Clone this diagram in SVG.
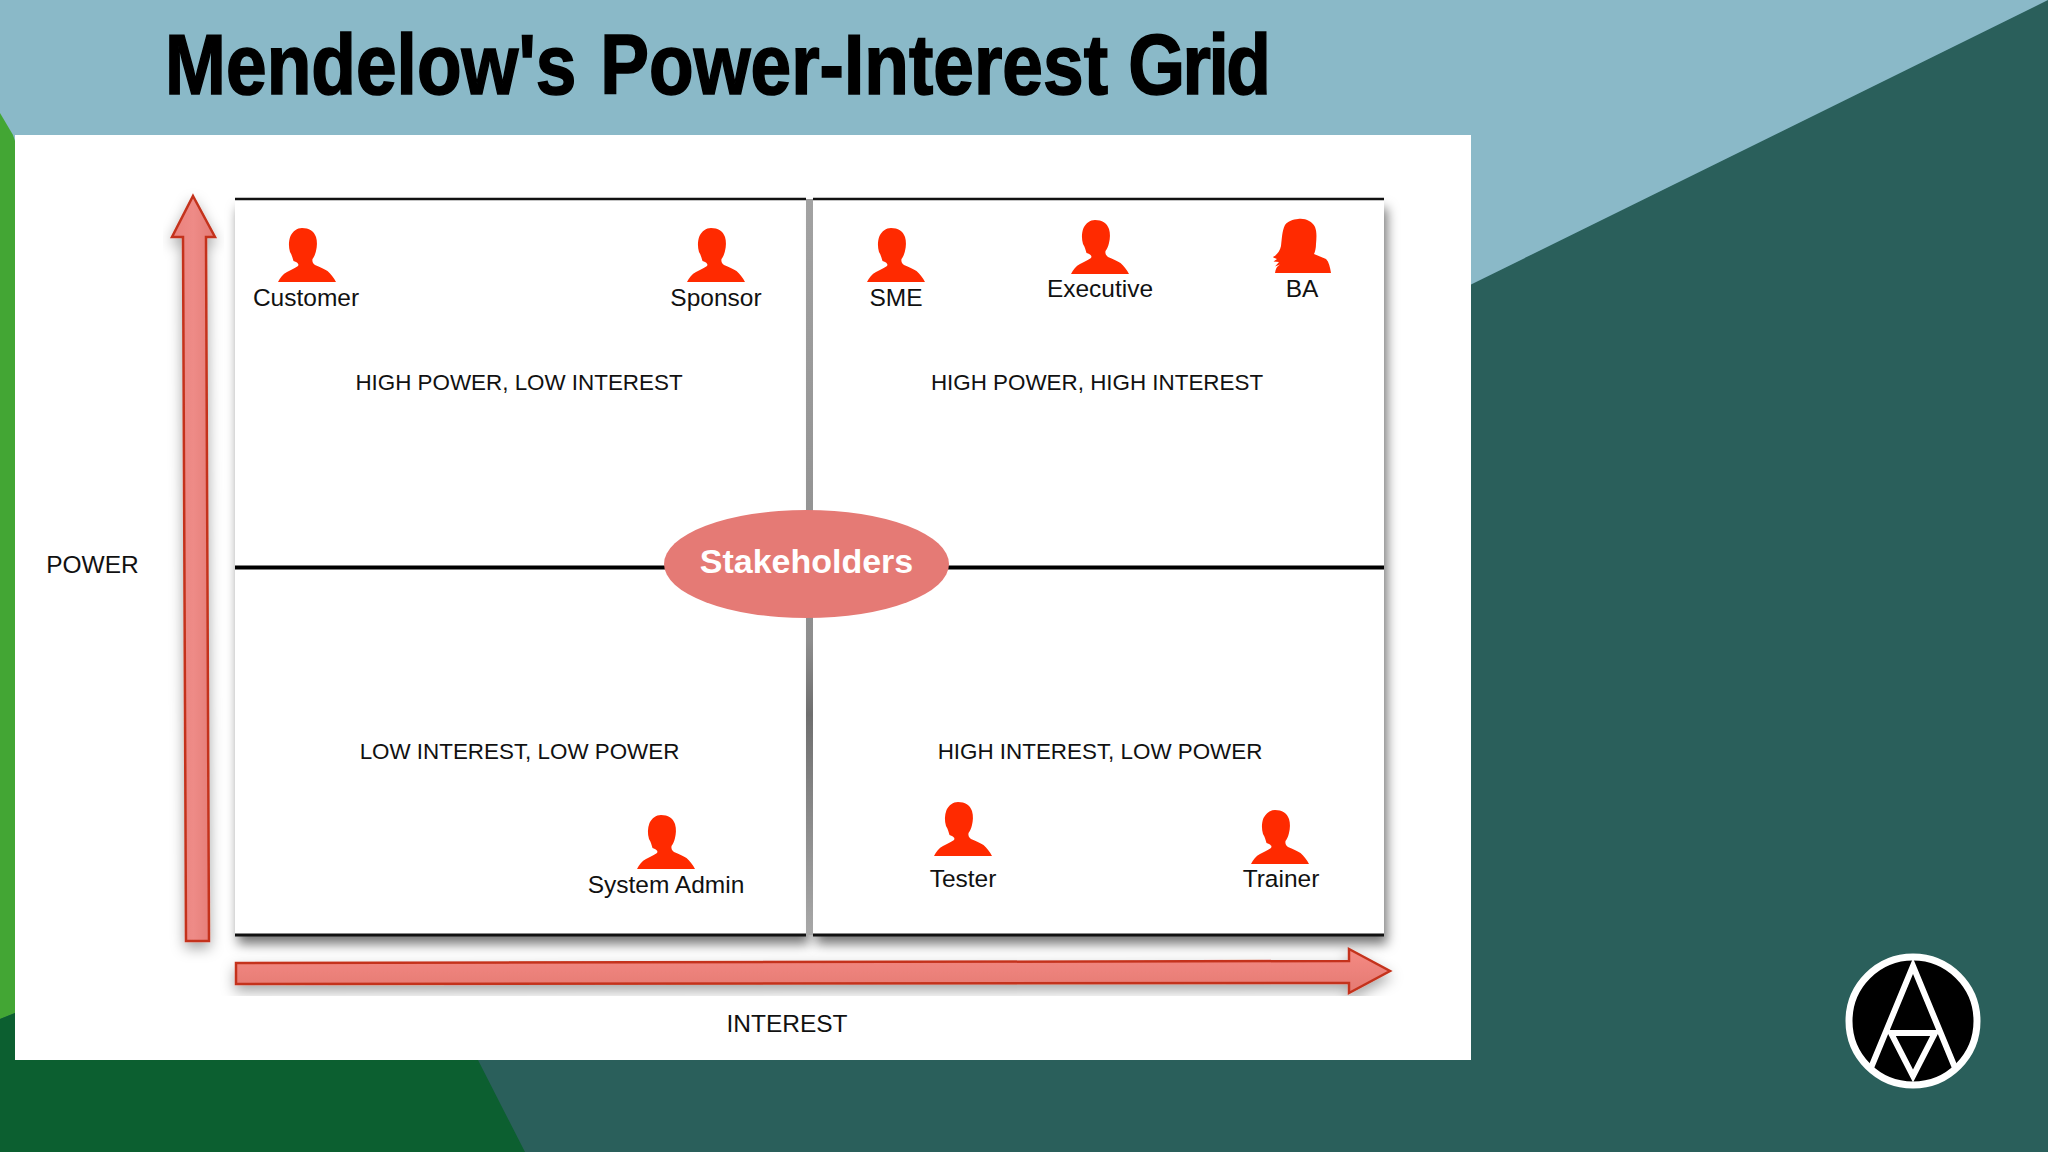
<svg xmlns="http://www.w3.org/2000/svg" width="2048" height="1152" viewBox="0 0 2048 1152">
<style>
text{font-family:"Liberation Sans",Arial,sans-serif;fill:#111;text-anchor:middle}
.n{font-size:24.500px}
.q{font-size:22.400px}
.a{font-size:24.500px}
.arrow{stroke:#c4331c;stroke-width:2.5;stroke-linejoin:miter}
.p{fill:#ff2a00}
.l{fill:none;stroke:#fff;stroke-width:6;stroke-linejoin:miter}
</style>
<defs>
<linearGradient id="gv" x1="0" x2="1" y1="0" y2="0"><stop offset="0" stop-color="#ea827d"/><stop offset=".5" stop-color="#ee8b87"/><stop offset="1" stop-color="#e37a74"/></linearGradient>
<linearGradient id="gh" x1="0" x2="0" y1="0" y2="1"><stop offset="0" stop-color="#f58a83"/><stop offset="1" stop-color="#e47a73"/></linearGradient>
<linearGradient id="gap" x1="0" x2="0" y1="0" y2="1"><stop offset="0" stop-color="#a2a2a2"/><stop offset=".6" stop-color="#8e8e8e"/><stop offset=".7" stop-color="#6f6f6f"/><stop offset="1" stop-color="#a8a8a8"/></linearGradient>
<filter id="s1" x="-5%" y="-5%" width="110%" height="110%"><feDropShadow dx="3" dy="9" stdDeviation="6" flood-color="#000" flood-opacity=".55"/></filter>
<filter id="s2" x="-20%" y="-5%" width="140%" height="110%"><feDropShadow dx="0" dy="6" stdDeviation="7" flood-color="#000" flood-opacity=".35"/></filter>
<clipPath id="lc"><circle cx="1913" cy="1021" r="62"/></clipPath>
<symbol id="man" viewBox="0 0 58 54" overflow="visible">
<path d="M24 0C31 0 36 3 38 9C39.500 14 39 19 38 23C37 27 36 29 34.500 31C34 33.500 35 35.500 37 37C42 39 46 41 49.500 43C53 46 56 50 58 54L0 54C2 50 5 46 9 44C13 42 17 40 20 38C21.500 36 19 34 15.500 33C14.500 30 14 27 12 24C10.500 19 10.500 13 12.500 8C15 3 19 0 24 0Z"/>
</symbol>
<symbol id="woman" viewBox="0 0 57 54" overflow="visible">
<path d="M24 0C31 -1 38 2 41 8C43 13 42.500 19 42 25C42 29 41 33 40 35C44 37 48 38 52 40C55 43 56 48 57 54L1 54C1.500 50 3 47 6 45.500L1 47.500L5 43L-.5 42.500L3 40C0 39 -1 38 -1 38C3 36 6 32 7 27C8 19 8 12 11 6C14 2 19 .5 24 0Z"/>
</symbol>
</defs>

<g id="background">
<rect width="2048" height="1152" fill="#2a5f5b"/>
<polygon points="0,0 2048,0 1470,285 1470,136 15,136 15,145 0,145" fill="#8ab9c8"/>
<polygon points="0,113 13,135 15,141 15,1013 0,1019" fill="#43a634"/>
<polygon points="0,1019 15,1013 15,1060 478,1060 525,1152 0,1152" fill="#0c5f30"/>
<rect x="15" y="135" width="1456" height="925" fill="#fff"/>
</g>

<text id="title" transform="scale(.86,1)" y="94" stroke="#000" stroke-width="1.600" style="font-size:85px;font-weight:bold;fill:#000;text-anchor:start"><tspan x="192">Mendelow's </tspan><tspan x="698">Power-Interest </tspan><tspan x="1312" letter-spacing="-3">Grid</tspan></text>

<g id="quadrants">
<rect id="q-left" x="235" y="199" width="571" height="736" fill="#fff" filter="url(#s1)"/>
<rect id="q-right" x="813" y="199" width="571" height="736" fill="#fff" filter="url(#s1)"/>
<rect x="806" y="199" width="7" height="736" fill="url(#gap)"/>
</g>

<g id="connectors">
<path d="M235 199H806M813 199H1384" stroke="#111" stroke-width="2.500" fill="none"/>
<path d="M235 935H806M813 935H1384" stroke="#111" stroke-width="3" fill="none"/>
<path d="M235 567.500H1384" stroke="#000" stroke-width="4" fill="none"/>
<polygon id="arrow-power" class="arrow" fill="url(#gv)" filter="url(#s2)" points="193,196 215,237 206,237 209,941 186,941 183,237 172,237"/>
<polygon id="arrow-interest" class="arrow" fill="url(#gh)" filter="url(#s2)" points="236,963 1349,961 1349,949 1390,971 1349,993 1349,983 236,984"/>
</g>

<g id="node-stakeholders">
<ellipse cx="806.500" cy="564" rx="142.500" ry="54" fill="#e57a75"/>
<text x="806.500" y="573" style="font-size:34px;font-weight:bold;fill:#fff">Stakeholders</text>
</g>

<g id="node-customer"><use href="#man" class="p" x="278" y="228" width="58" height="54"/><text class="n" x="306" y="306">Customer</text></g>
<g id="node-sponsor"><use href="#man" class="p" x="687" y="228" width="58" height="54"/><text class="n" x="716" y="306">Sponsor</text></g>
<g id="node-sme"><use href="#man" class="p" x="867" y="228" width="58" height="54"/><text class="n" x="896" y="306">SME</text></g>
<g id="node-executive"><use href="#man" class="p" x="1071" y="220" width="58" height="54"/><text class="n" x="1100" y="297">Executive</text></g>
<g id="node-ba"><use href="#woman" class="p" x="1274" y="219" width="57" height="54"/><text class="n" x="1302" y="297">BA</text></g>
<g id="node-system-admin"><use href="#man" class="p" x="637" y="815" width="58" height="54"/><text class="n" x="666" y="893">System Admin</text></g>
<g id="node-tester"><use href="#man" class="p" x="934" y="802" width="58" height="54"/><text class="n" x="963" y="887">Tester</text></g>
<g id="node-trainer"><use href="#man" class="p" x="1251" y="810" width="58" height="54"/><text class="n" x="1281" y="887">Trainer</text></g>

<g id="quadrant-labels">
<text class="q" x="519" y="390">HIGH POWER, LOW INTEREST</text>
<text class="q" x="1097" y="390">HIGH POWER, HIGH INTEREST</text>
<text class="q" x="519.500" y="759">LOW INTEREST, LOW POWER</text>
<text class="q" x="1100" y="759">HIGH INTEREST, LOW POWER</text>
</g>
<text id="label-power" class="a" x="92.500" y="573">POWER</text>
<text id="label-interest" class="a" x="787" y="1032">INTEREST</text>

<g id="logo">
<circle cx="1913" cy="1021" r="64" fill="#000" stroke="#fff" stroke-width="7"/>
<g clip-path="url(#lc)">
<path class="l" d="M1868 1075L1913 966L1958 1075"/>
<path class="l" d="M1891 1033H1935L1913 1076Z"/>
</g>
</g>
</svg>
